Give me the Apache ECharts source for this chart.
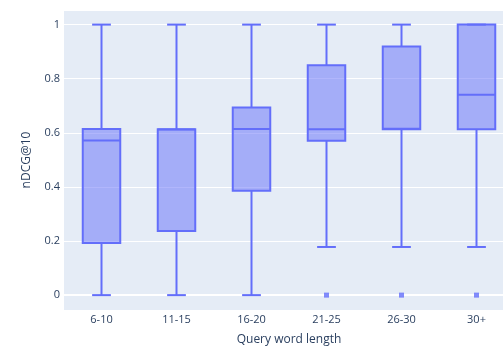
<!DOCTYPE html>
<html>
<head>
<meta charset="utf-8">
<script src="https://cdn.jsdelivr.net/npm/echarts@6/dist/echarts.min.js"></script>
<style>html,body{margin:0;padding:0;background:#fff}#c{width:503px;height:347px}</style>
</head>
<body>
<div id="c"></div>
<script>
var categories = ['6-10', '11-15', '16-20', '21-25', '26-30', '30+'];
var lowWhisker = [0, 0, 0, 0.178, 0.178, 0.178];
var q1 = [0.193, 0.237, 0.386, 0.571, 0.613, 0.613];
var median = [0.572, 0.612, 0.614, 0.613, 0.615, 0.741];
var q3 = [0.614, 0.613, 0.694, 0.850, 0.919, 1.0];
var highWhisker = [1, 1, 1, 1, 1, 1];
var outliers = [[3, 0], [4, 0], [5, 0]];
var yTicks = [0, 0.2, 0.4, 0.6, 0.8, 1];

var boxData = categories.map(function (c, i) {
  return [i, lowWhisker[i], q1[i], median[i], q3[i], highWhisker[i]];
});

var lineColor = '#636efa';
var fillColor = 'rgba(99,110,250,0.5)';
var font = '"Open Sans", "Noto Sans", sans-serif';
var textColor = '#2a3f5f';

function renderBox(params, api) {
  var x = api.value(0);
  var band = api.size([1, 0])[0];
  var half = band * 0.25;
  var capHalf = band * 0.125;
  var pLow = api.coord([x, api.value(1)]);
  var pQ1 = api.coord([x, api.value(2)]);
  var pMed = api.coord([x, api.value(3)]);
  var pQ3 = api.coord([x, api.value(4)]);
  var pHigh = api.coord([x, api.value(5)]);
  var cx = pMed[0];
  var st = { stroke: lineColor, lineWidth: 2, fill: null };
  return {
    type: 'group',
    children: [
      { type: 'line', shape: { x1: cx, y1: pQ1[1], x2: cx, y2: pLow[1] }, style: st },
      { type: 'line', shape: { x1: cx, y1: pQ3[1], x2: cx, y2: pHigh[1] }, style: st },
      { type: 'line', shape: { x1: cx - capHalf, y1: pLow[1], x2: cx + capHalf, y2: pLow[1] }, style: st },
      { type: 'line', shape: { x1: cx - capHalf, y1: pHigh[1], x2: cx + capHalf, y2: pHigh[1] }, style: st },
      { type: 'rect', shape: { x: cx - half, y: pQ3[1], width: half * 2, height: pQ1[1] - pQ3[1] },
        style: { fill: fillColor, stroke: lineColor, lineWidth: 2 } },
      { type: 'line', shape: { x1: cx - half, y1: pMed[1], x2: cx + half, y2: pMed[1] }, style: st }
    ]
  };
}

var chart = echarts.init(document.getElementById('c'));
chart.setOption({
  animation: false,
  grid: { left: 64, top: 10, width: 450, height: 300, show: true, backgroundColor: '#E5ECF6', borderWidth: 0, containLabel: false, outerBoundsMode: 'none' },
  xAxis: {
    type: 'category',
    data: categories,
    boundaryGap: true,
    axisLine: { show: false },
    axisTick: { show: false },
    splitLine: { show: false },
    axisLabel: { color: textColor, fontFamily: font, fontSize: 11, margin: 4 },
    name: 'Query word length',
    nameLocation: 'middle',
    nameGap: 24,
    nameTextStyle: { color: textColor, fontFamily: font, fontSize: 12 }
  },
  yAxis: {
    type: 'value',
    min: -0.055,
    max: 1.054,
    splitNumber: 5,
    axisLine: { show: false },
    axisTick: { show: false },
    splitLine: { show: true, lineStyle: { color: '#ffffff', width: 1 } },
    axisLabel: {
      color: textColor, fontFamily: font, fontSize: 11, margin: 4,
      showMinLabel: false, showMaxLabel: false,
      formatter: function (v) {
        for (var i = 0; i < yTicks.length; i++) {
          if (Math.abs(v - yTicks[i]) < 1e-6) return String(yTicks[i]);
        }
        return '';
      }
    },
    name: 'nDCG@10',
    nameLocation: 'middle',
    nameRotate: 90,
    nameGap: 31,
    nameTextStyle: { color: textColor, fontFamily: font, fontSize: 12 }
  },
  series: [
    {
      type: 'custom',
      renderItem: renderBox,
      data: boxData,
      encode: { x: 0, y: [1, 2, 3, 4, 5] },
      markLine: {
        silent: true, symbol: 'none', label: { show: false },
        lineStyle: { color: '#ffffff', width: 2, type: 'solid' },
        data: [{ yAxis: 0 }],
        z: 0
      },
      z: 3
    },
    {
      type: 'scatter',
      data: outliers,
      symbol: 'rect',
      symbolSize: 5,
      itemStyle: { color: lineColor },
      z: 4
    }
  ]
});
</script>
</body>
</html>
